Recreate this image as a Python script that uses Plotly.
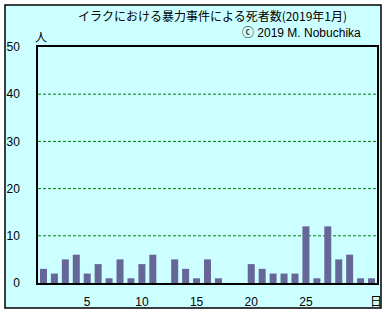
import plotly.graph_objects as go

days = list(range(1, 32))
deaths = [3, 2, 5, 6, 2, 4, 1, 5, 1, 4, 6, 0, 5, 3, 1, 5, 1, 0, 0, 4,
          3, 2, 2, 2, 12, 1, 12, 5, 6, 1, 1]
x_tickvals = [5, 10, 15, 20, 25, 31.4]
x_ticktext = ["5", "10", "15", "20", "25", "日"]
y_tickvals = [0, 10, 20, 30, 40, 50]

title = "イラクにおける暴力事件による死者数(2019年1月)"
credit = "ⓒ 2019 M. Nobuchika"

BG = "#CCFFFF"
fig = go.Figure(go.Bar(x=days, y=deaths, marker=dict(color="#666699", line=dict(width=0)),
                       width=0.64))

W, H = 391, 313
L, R, T, B = 38, 14, 47, 30
pw, ph = W - L - R, H - T - B

def px(x):
    return (x - L) / pw

def py(y):
    return (H - B - y) / ph

fig.add_shape(type="rect", xref="paper", yref="paper",
              x0=px(5), x1=px(381), y0=py(308), y1=py(5),
              fillcolor=BG, line=dict(color="black", width=1.5), layer="below")

for v in [10, 20, 30, 40]:
    fig.add_shape(type="line", xref="paper", yref="y", x0=0, x1=1, y0=v, y1=v,
                  line=dict(color="#008000", width=1, dash="3px,2px"), layer="below")

fig.add_annotation(text=title, xref="paper", yref="paper", x=px(213), y=py(16),
                   showarrow=False, xanchor="center", yanchor="middle",
                   font=dict(family="Noto Sans CJK JP", size=12, color="black"))
fig.add_annotation(text=credit, xref="paper", yref="paper", x=px(363), y=py(33),
                   showarrow=False, xanchor="right", yanchor="middle",
                   font=dict(family="Liberation Sans, Noto Sans CJK JP", size=12, color="black"))
fig.add_annotation(text="人", xref="paper", yref="paper", x=px(41), y=py(37),
                   showarrow=False, xanchor="center", yanchor="middle",
                   font=dict(family="Noto Sans CJK JP", size=12, color="black"))

fig.update_layout(
    width=W, height=H,
    margin=dict(l=L, r=R, t=T, b=B, pad=0),
    paper_bgcolor="white", plot_bgcolor=BG,
    showlegend=False,
    font=dict(family="Liberation Sans", size=12, color="black"),
)
fig.update_xaxes(range=[0.5, 31.5], tickvals=x_tickvals, ticktext=x_ticktext,
                 showgrid=False, zeroline=False, showline=True, linecolor="black",
                 linewidth=1.5, mirror=True, ticks="", ticklabelstandoff=7,
                 automargin=False,
                 tickfont=dict(family="Liberation Sans, Noto Sans CJK JP", size=12))
fig.update_yaxes(range=[0, 50], tickvals=y_tickvals, showgrid=False, zeroline=False,
                 showline=True, linecolor="black", linewidth=1.5, mirror=True,
                 automargin=False,
                 ticks="", ticklabelstandoff=14, tickfont=dict(size=12))

fig.write_html("out.html")
